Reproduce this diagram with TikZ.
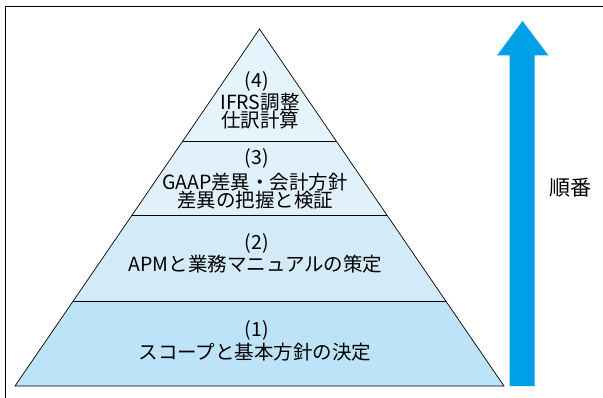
\documentclass[tikz,border=0pt]{standalone}
\usepackage{fontspec}
\setmainfont{Noto Sans CJK JP}
\usetikzlibrary{calc}
\definecolor{tierfour}{HTML}{E5F3FC}
\definecolor{tierthree}{HTML}{E1F1FB}
\definecolor{tiertwo}{HTML}{D3EBF9}
\definecolor{tierone}{HTML}{BCE3F7}
\definecolor{arrowblue}{HTML}{00A0E6}
\begin{document}
\begin{tikzpicture}[x=1pt,y=-1pt,
  lbl/.style={font=\fontsize{19.5}{18.5}\selectfont, inner sep=0pt, align=center},
  num/.style={font=\fontsize{19.5}{19.5}\selectfont, inner sep=0pt},
  tierline/.style={draw=black, line width=0.7pt}]
\useasboundingbox (0,0) rectangle (603,398);
% frame
\draw[line width=1pt] (5,398) -- (5,7) -- (603,7);
% pyramid coordinates
\coordinate (apex) at (259.5,29);
\coordinate (bl) at (15,386);
\coordinate (br) at (504,386);
\coordinate (l3) at ($(apex)!0.3137!(bl)$);
\coordinate (r3) at ($(apex)!0.3137!(br)$);
\coordinate (l2) at ($(apex)!0.5210!(bl)$);
\coordinate (r2) at ($(apex)!0.5210!(br)$);
\coordinate (l1) at ($(apex)!0.7619!(bl)$);
\coordinate (r1) at ($(apex)!0.7619!(br)$);
% fills
\fill[tierfour] (apex) -- (l3) -- (r3) -- cycle;
\fill[tierthree] (l3) -- (l2) -- (r2) -- (r3) -- cycle;
\fill[tiertwo] (l2) -- (l1) -- (r1) -- (r2) -- cycle;
\fill[tierone] (l1) -- (bl) -- (br) -- (r1) -- cycle;
% outlines
\draw[tierline] (apex) -- (bl) -- (br) -- cycle;
\draw[tierline] (l3) -- (r3);
\draw[tierline] (l2) -- (r2);
\draw[tierline] (l1) -- (r1);
% labels
\node[num] (n4) at (256.7,81.5) {(4)};
\node[lbl] (t4) at (260,111) {IFRS調整\\仕訳計算};
\node[num] (n3) at (256.7,158) {(3)};
\node[lbl] (t3) at (255,191) {GAAP差異・会計方針\\差異の把握と検証};
\node[num] (n2) at (256.7,243) {(2)};
\node[lbl] (t2) at (255.5,264) {APMと業務マニュアルの策定};
\node[num] (n1) at (256.7,330) {(1)};
\node[lbl] (t1) at (255,352.5) {スコープと基本方針の決定};
% order arrow
\fill[arrowblue] (509.5,386) -- (509.5,55.5) -- (497,55.5) -- (522.5,21) -- (548.5,55.5) -- (534.5,55.5) -- (534.5,386) -- cycle;
\node[font=\fontsize{21}{21}\selectfont, inner sep=0pt] (order) at (570.5,188) {順番};
\end{tikzpicture}
\end{document}
